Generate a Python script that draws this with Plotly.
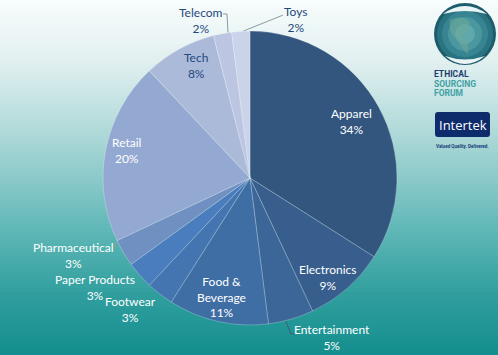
import math
import plotly.graph_objects as go

# ---- data ----
categories = ["Apparel", "Electronics", "Entertainment", "Food &<br>Beverage", "Footwear",
              "Paper Products", "Pharmaceutical", "Retail", "Tech", "Telecom", "Toys"]
values = [34, 9, 5, 11, 3, 3, 3, 20, 8, 2, 2]

# ---- styles ----
slice_colors = ["#33567F", "#385E8D", "#3C6698", "#3F6EA5", "#4475B0", "#4A7DBD",
                "#7090C2", "#94A9D1", "#ACBAD9", "#BCC6E2", "#CBD3EA"]
DARK = "#1F497D"
WHITE = "#FFFFFF"
# per label: angle offset from slice middle (deg), radial factor, text colour
label_style = {
    "Apparel": (-0.4, 0.79, WHITE),
    "Electronics": (3.2, 0.86, WHITE),
    "Entertainment": (-10.9, 1.22, WHITE),
    "Food &<br>Beverage": (0.7, 0.83, WHITE),
    "Footwear": (4.5, 1.21, WHITE),
    "Paper Products": (6.0, 1.29, WHITE),
    "Pharmaceutical": (7.0, 1.31, WHITE),
    "Retail": (1.9, 0.86, WHITE),
    "Tech": (3.3, 0.85, DARK),
    "Telecom": (-6.4, 1.12, DARK),
    "Toys": (19.8, 1.12, DARK),
}
# leader lines: (start angle offset, elbow angle offset, elbow radial factor, horizontal tail px)
leader_style = {
    "Entertainment": (2.2, 1.5, 1.096, 4),
    "Telecom": (2.2, 2.8, 1.127, -4),
    "Toys": (0.9, 15.0, 1.13, 0),
    "Pharmaceutical": (4.6, 3.8, 1.03, -2),
}

W, H = 498, 355
CX, CY, R = 250, 178, 147

total = sum(values)
mids = []
acc = 0
for v in values:
    mids.append((acc + v / 2) / total * 360)
    acc += v


def polar(angle_deg, k):
    a = math.radians(angle_deg)
    return CX + k * R * math.sin(a), CY - k * R * math.cos(a)


fig = go.Figure()

# background gradient
stops = [(0, (248, 252, 252)), (60, (226, 240, 240)), (118, (185, 222, 221)),
         (177, (140, 202, 202)), (236, (90, 181, 180)), (295, (48, 158, 158)), (355, (20, 142, 142))]
shapes = []
step = 4
for y0 in range(0, H, step):
    ym = y0 + step / 2
    for i in range(len(stops) - 1):
        if stops[i][0] <= ym <= stops[i + 1][0]:
            t = (ym - stops[i][0]) / (stops[i + 1][0] - stops[i][0])
            c = [round(stops[i][1][j] + t * (stops[i + 1][1][j] - stops[i][1][j])) for j in range(3)]
            break
    shapes.append(dict(type="rect", xref="x", yref="y", x0=0, x1=W, y0=y0, y1=y0 + step + 0.5,
                       fillcolor=f"rgb({c[0]},{c[1]},{c[2]})", line=dict(width=0), layer="below"))

# pie
fig.add_trace(go.Pie(
    labels=categories, values=values, sort=False, direction="clockwise", rotation=0,
    marker=dict(colors=slice_colors, line=dict(color="rgba(255,255,255,0.35)", width=0.7)),
    textinfo="none", hoverinfo="skip", showlegend=False,
    domain=dict(x=[(CX - R) / W, (CX + R) / W], y=[1 - (CY + R) / H, 1 - (CY - R) / H]),
))

# leader lines
for name, (sa, ea, ek, tail) in leader_style.items():
    i = categories.index(name)
    x0, y0 = polar(mids[i] + sa, 1.0)
    x1, y1 = polar(mids[i] + ea, ek)
    xs, ys = [x0, x1], [y0, y1]
    if tail:
        xs.append(x1 + tail)
        ys.append(y1)
    col = "#3F5F6F" if name == "Entertainment" else "#8A9AA4"
    fig.add_trace(go.Scatter(x=xs, y=ys, mode="lines", line=dict(color=col, width=1),
                             hoverinfo="skip", showlegend=False))

annotations = []
for i, name in enumerate(categories):
    da, k, col = label_style[name]
    x, y = polar(mids[i] + da, k)
    annotations.append(dict(x=x, y=y, xref="x", yref="y", showarrow=False,
                            text=f"{name}<br>{values[i]}%", align="center",
                            font=dict(family="Lato, Open Sans, sans-serif", size=12, color=col)))

# Ethical Sourcing Forum logo (globe)
GX, GY = 465, 34
globe_rings = [(31, "#1D5C6C"), (28, "#2A7482"), (23, "#378592"), (17, "#4A979F"), (10, "#5FA9AD")]
for rr, fc in globe_rings:
    shapes.append(dict(type="circle", xref="x", yref="y", x0=GX - rr, x1=GX + rr,
                       y0=GY - rr, y1=GY + rr, fillcolor=fc, line=dict(width=0)))
shapes += [
    # continents hint
    dict(type="path", xref="x", yref="y",
         path="M 450,20 Q 462,14 470,22 Q 468,32 462,36 Q 470,42 468,54 Q 462,50 458,40 Q 448,34 450,20 Z",
         fillcolor="rgba(110,170,150,0.55)", line=dict(width=0)),
    # hands
    dict(type="path", xref="x", yref="y",
         path="M 443,14 Q 465,-2 487,14 Q 465,8 443,14 Z", fillcolor="#EAF4F4", line=dict(width=0)),
    dict(type="path", xref="x", yref="y",
         path="M 445,56 Q 465,72 485,56 Q 465,63 445,56 Z", fillcolor="#EAF4F4", line=dict(width=0)),
    # Intertek box
    dict(type="path", xref="x", yref="y",
         path="M 438,112 L 487,112 Q 490,112 490,115 L 490,134 Q 490,137 487,137 L 438,137 "
              "Q 435,137 435,134 L 435,115 Q 435,112 438,112 Z",
         fillcolor="#0E2C6C", line=dict(width=0)),
]
logo_font = "Roboto, DejaVu Sans, sans-serif"
annotations += [
    dict(x=432, y=74, xref="x", yref="y", text="<b>ETHICAL</b>", showarrow=False, xanchor="left",
         font=dict(family=logo_font, size=8.5, color="#1F3C6E")),
    dict(x=432, y=83.5, xref="x", yref="y", text="<b>SOURCING</b>", showarrow=False, xanchor="left",
         font=dict(family=logo_font, size=8.5, color="#3FA1A5")),
    dict(x=432, y=92.5, xref="x", yref="y", text="<b>FORUM</b>", showarrow=False, xanchor="left",
         font=dict(family=logo_font, size=8.5, color="#3FA1A5")),
    dict(x=462.5, y=124.5, xref="x", yref="y", text="Intertek", showarrow=False,
         font=dict(family="Open Sans, sans-serif", size=13, color="#FFFFFF")),
    dict(x=462.5, y=146, xref="x", yref="y", text="<b>Valued Quality. Delivered.</b>", showarrow=False,
         font=dict(family="Roboto, sans-serif", size=4.6, color="#1B3A7A")),
]

fig.update_layout(
    width=W, height=H, margin=dict(l=0, r=0, t=0, b=0),
    paper_bgcolor="#FFFFFF", plot_bgcolor="rgba(0,0,0,0)",
    xaxis=dict(range=[0, W], visible=False, fixedrange=True),
    yaxis=dict(range=[H, 0], visible=False, fixedrange=True),
    shapes=shapes, annotations=annotations, showlegend=False,
)

fig.write_html("out.html", config={"displayModeBar": False},
               post_script="document.body.style.margin='0';document.body.style.overflow='hidden';")
